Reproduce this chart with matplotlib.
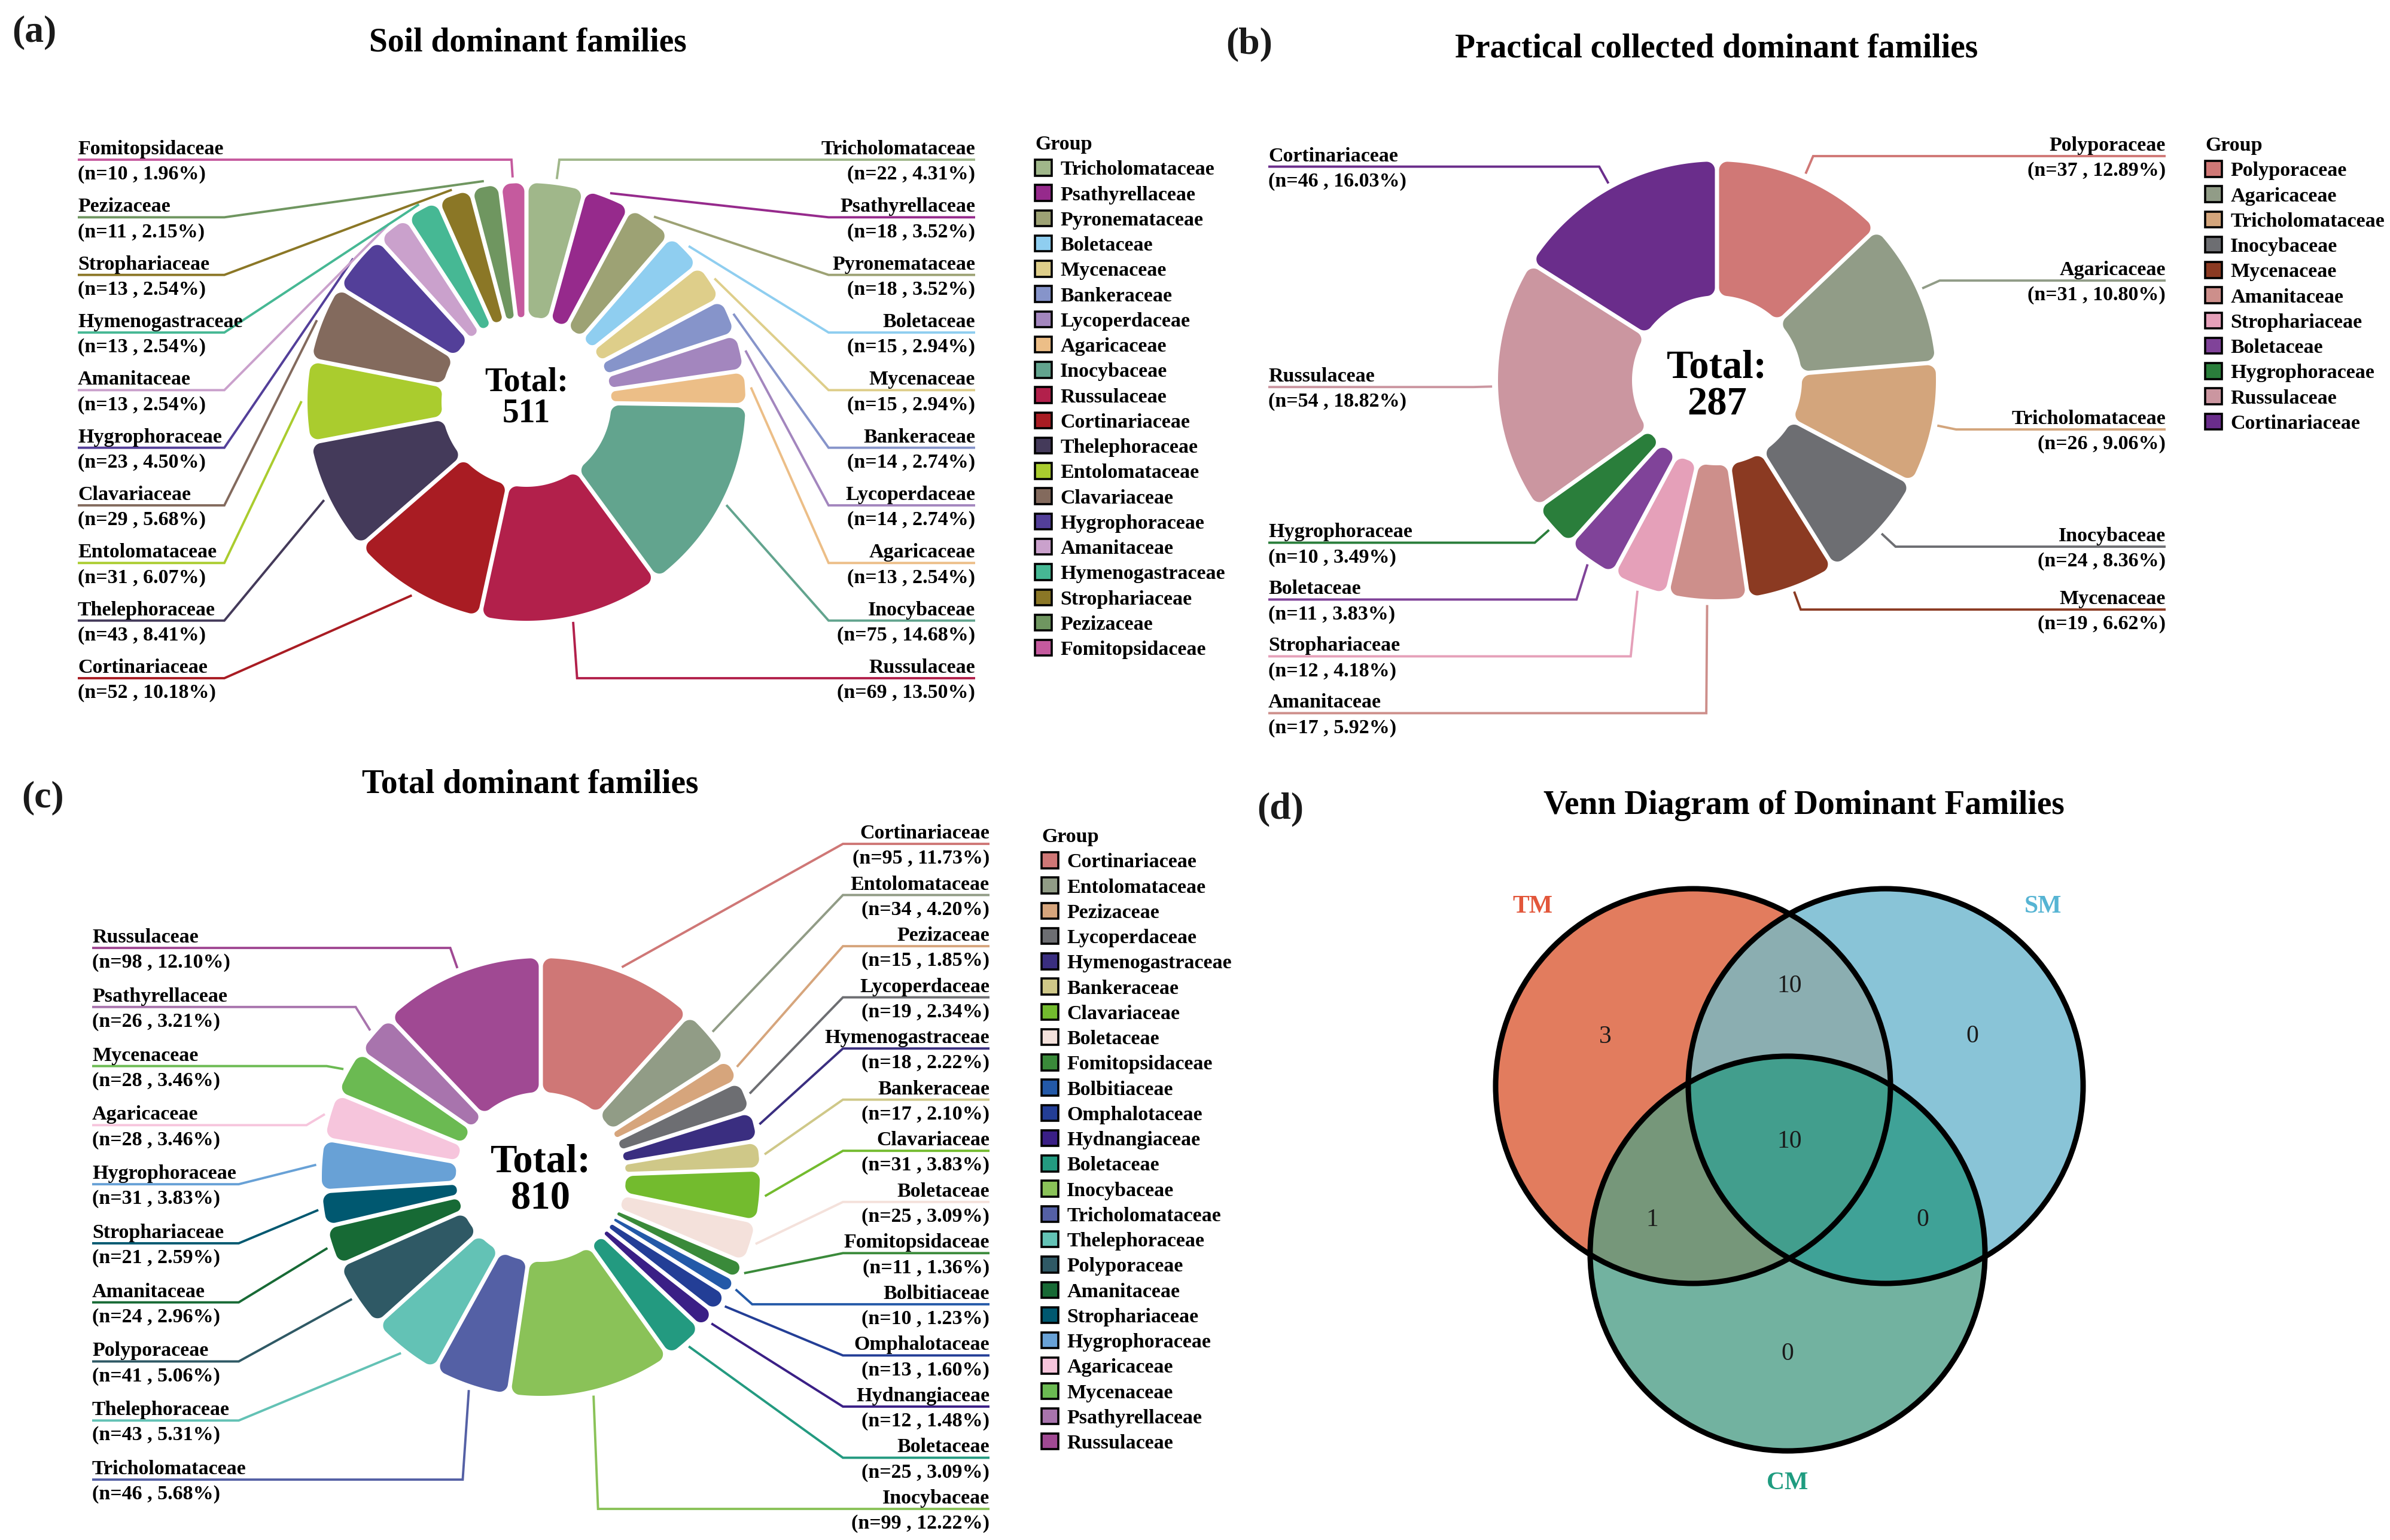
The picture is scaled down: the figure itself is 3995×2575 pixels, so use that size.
"""Dominant fungal families: three rounded donut charts plus a Venn diagram."""
import numpy as np
import matplotlib
matplotlib.use("Agg")
import matplotlib.pyplot as plt
from matplotlib.patches import Polygon, Patch, Circle

W, H = 3995, 2575
plt.rcParams.update({
    "font.family": "Liberation Serif",
    "font.weight": "bold",
})

# ---- data -------------------------------------------------------------
soil_families = ["Tricholomataceae", "Psathyrellaceae", "Pyronemataceae", "Boletaceae",
                 "Mycenaceae", "Bankeraceae", "Lycoperdaceae", "Agaricaceae",
                 "Inocybaceae", "Russulaceae", "Cortinariaceae", "Thelephoraceae",
                 "Entolomataceae", "Clavariaceae", "Hygrophoraceae", "Amanitaceae",
                 "Hymenogastraceae", "Strophariaceae", "Pezizaceae", "Fomitopsidaceae"]
soil_counts = [22, 18, 18, 15, 15, 14, 14, 13, 75, 69, 52, 43, 31, 29, 23, 13, 13, 13, 11, 10]
soil_pcts = [4.31, 3.52, 3.52, 2.94, 2.94, 2.74, 2.74, 2.54, 14.68, 13.50, 10.18, 8.41,
             6.07, 5.68, 4.50, 2.54, 2.54, 2.54, 2.15, 1.96]
soil_colors = ["#A0B78A", "#962A8C", "#9DA274", "#8FCEF0", "#DECE8A", "#8694CA",
               "#A386BE", "#ECBE87", "#62A48E", "#B2204B", "#A91C23", "#443A5A",
               "#AACC2E", "#836A5D", "#533F99", "#CAA1CC", "#46B894", "#8B7726",
               "#6F9660", "#C55A9E"]

coll_families = ["Polyporaceae", "Agaricaceae", "Tricholomataceae", "Inocybaceae",
                 "Mycenaceae", "Amanitaceae", "Strophariaceae", "Boletaceae",
                 "Hygrophoraceae", "Russulaceae", "Cortinariaceae"]
coll_counts = [37, 31, 26, 24, 19, 17, 12, 11, 10, 54, 46]
coll_pcts = [12.89, 10.80, 9.06, 8.36, 6.62, 5.92, 4.18, 3.83, 3.49, 18.82, 16.03]
coll_colors = ["#D07876", "#919C87", "#D3A57C", "#6D6E72", "#8B3A22", "#CD8F8B",
               "#E5A0B9", "#804399", "#2A7E3B", "#CB96A0", "#6A2D8B"]

total_families = ["Cortinariaceae", "Entolomataceae", "Pezizaceae", "Lycoperdaceae",
                  "Hymenogastraceae", "Bankeraceae", "Clavariaceae", "Boletaceae",
                  "Fomitopsidaceae", "Bolbitiaceae", "Omphalotaceae", "Hydnangiaceae",
                  "Boletaceae", "Inocybaceae", "Tricholomataceae", "Thelephoraceae",
                  "Polyporaceae", "Amanitaceae", "Strophariaceae", "Hygrophoraceae",
                  "Agaricaceae", "Mycenaceae", "Psathyrellaceae", "Russulaceae"]
total_counts = [95, 34, 15, 19, 18, 17, 31, 25, 11, 10, 13, 12, 25, 99, 46, 43, 41, 24,
                21, 31, 28, 28, 26, 98]
total_pcts = [11.73, 4.20, 1.85, 2.34, 2.22, 2.10, 3.83, 3.09, 1.36, 1.23, 1.60, 1.48,
              3.09, 12.22, 5.68, 5.31, 5.06, 2.96, 2.59, 3.83, 3.46, 3.46, 3.21, 12.10]
total_colors = ["#CF7776", "#919C86", "#D6A57C", "#6D6E72", "#3A2E80", "#CFC888",
                "#73BB2E", "#F4E1DB", "#3A8A3A", "#2359A8", "#233E96", "#3A1F86",
                "#239A80", "#8AC258", "#5460A5", "#63C2B5", "#2F5965", "#176A35",
                "#005870", "#68A1D6", "#F6C5DC", "#6BBA52", "#A874AD", "#A04993"]

venn_sets = ["TM", "SM", "CM"]
venn_set_colors = ["#E27C5E", "#89C4D7", "#72B2A0"]
venn_label_colors = ["#E2563A", "#56B4D3", "#1F9C80"]
# region order: TM only, SM only, CM only, TM&SM, TM&CM, SM&CM, all three
venn_counts = [3, 0, 0, 10, 1, 0, 10]
venn_pair_colors = {"AB": "#8BAEB1", "AC": "#76977A", "BC": "#3FA297", "ABC": "#429E8D"}

# ---- geometry / style ---------------------------------------------------
R_IN, R_OUT, GAP, CORNER = 142, 366, 7, 14
R_ANCHOR, R_ELBOW, ELBOW_X, LABEL_EDGE = 376, 408, 505, 750
LABEL_FS = 24.5


def panel_axes(fig, cx, cy):
    """Full-figure axes, 1 unit = 1 px, origin at image point (cx, cy), y up."""
    ax = fig.add_axes([0, 0, 1, 1])
    ax.set_xlim(-cx, W - cx)
    ax.set_ylim(cy - H, cy)
    ax.axis("off")
    ax.patch.set_visible(False)
    return ax


def rounded_wedge(t1, t2, ri, ro, gap, rc, n=24):
    h = gap / 2
    half = (t2 - t1) / 2
    s = np.sin(half)
    rc_o = max(min(rc, (ro * s - h) / (1 + s)), 0.5)
    rc_i = max(min(rc, ri * s - h), 0.5)
    a_o = min(np.arcsin(min((h + rc_o) / (ro - rc_o), 1)), half)
    a_i = min(np.arcsin(min((h + rc_i) / (ri + rc_i), 1)), half)

    def arc(cx, cy, r, a0, a1, m=n):
        t = np.linspace(a0, a1, m)
        return np.c_[cx + r * np.cos(t), cy + r * np.sin(t)]

    def pol(r, a):
        return r * np.cos(a), r * np.sin(a)

    p1 = pol(ro - rc_o, t1 + a_o)
    p2 = pol(ro - rc_o, t2 - a_o)
    p3 = pol(ri + rc_i, t2 - a_i)
    p4 = pol(ri + rc_i, t1 + a_i)
    parts = [arc(*p1, rc_o, t1 - np.pi / 2, t1 + a_o),
             arc(0, 0, ro, t1 + a_o, t2 - a_o, 120),
             arc(*p2, rc_o, t2 - a_o, t2 + np.pi / 2),
             arc(*p3, rc_i, t2 + np.pi / 2, t2 - a_i + np.pi),
             arc(0, 0, ri, t2 - a_i, t1 + a_i, 60),
             arc(*p4, rc_i, t1 + a_i + np.pi, t1 + 1.5 * np.pi)]
    return np.vstack(parts)


def donut(ax, names, counts, pcts, colors, total_fs, total_dy, mode, spans, legend_xy):
    counts = np.asarray(counts, float)
    total = counts.sum()
    cum = np.concatenate([[0], np.cumsum(counts)])
    starts = 90 - 360 * cum[:-1] / total
    ends = 90 - 360 * cum[1:] / total
    for s, e, c in zip(starts, ends, colors):
        poly = rounded_wedge(np.radians(e), np.radians(s), R_IN, R_OUT, GAP, CORNER)
        ax.add_patch(Polygon(poly, closed=True, facecolor=c, edgecolor="none"))

    ax.text(0, total_dy, f"Total:\n{int(total)}", ha="center", va="center",
            fontsize=total_fs, fontweight="bold", linespacing=1.0)

    mids = np.radians((starts + ends) / 2)
    ex, ey = R_ELBOW * np.cos(mids), R_ELBOW * np.sin(mids)
    right = np.cos(mids) > 0
    label_y = np.zeros(len(counts))
    for side, (top, bottom) in zip([True, False], spans):
        idx = [i for i in np.argsort(-ey) if right[i] == side]
        if mode == "even":
            label_y[idx] = np.linspace(top, bottom, len(idx))
        else:  # push labels down so they keep a minimum spacing
            prev = None
            for i in idx:
                y = ey[i] if prev is None else min(ey[i], prev - top)
                label_y[i] = y
                prev = y

    for i, (name, n, pct, c) in enumerate(zip(names, counts, pcts, colors)):
        sgn = 1 if right[i] else -1
        ly = label_y[i]
        ax_, ay = R_ANCHOR * np.cos(mids[i]), R_ANCHOR * np.sin(mids[i])
        beyond = np.sign(ly) == np.sign(ey[i]) and abs(ly) >= abs(ey[i])
        if mode != "even" or (abs(ex[i]) < 140 and beyond) or abs(ly - ey[i]) < 30:
            bx = ex[i]
        else:
            bx = sgn * ELBOW_X
        edge = sgn * LABEL_EDGE
        ax.plot([ax_, bx, edge], [ay, ly, ly], color=c, lw=2.8,
                solid_joinstyle="miter", solid_capstyle="butt")
        ha = "right" if right[i] else "left"
        ax.text(edge, ly + 9, name, ha=ha, va="baseline", fontsize=LABEL_FS)
        ax.text(edge, ly - 33, f"(n={int(n)} , {pct:.2f}%)", ha=ha,
                va="baseline", fontsize=LABEL_FS)

    handles = [Patch(facecolor=c, edgecolor="black", linewidth=2.6) for c in colors]
    ax.legend(handles, names, loc="upper left", bbox_to_anchor=legend_xy,
              bbox_transform=ax.transData, frameon=False, title="Group",
              alignment="left", fontsize=LABEL_FS, title_fontsize=LABEL_FS,
              handlelength=0.82, handleheight=0.82, handletextpad=0.42,
              labelspacing=0.30, borderpad=0, borderaxespad=0)


def lens(c1, c2, r, n=1440):
    t = np.linspace(0, 2 * np.pi, n, endpoint=False)
    a = np.c_[c1[0] + r * np.cos(t), c1[1] + r * np.sin(t)]
    b = np.c_[c2[0] + r * np.cos(t), c2[1] + r * np.sin(t)]
    pts = np.vstack([a[np.hypot(*(a - c2).T) <= r], b[np.hypot(*(b - c1).T) <= r]])
    mid = (np.asarray(c1) + np.asarray(c2)) / 2
    order = np.argsort(np.arctan2(pts[:, 1] - mid[1], pts[:, 0] - mid[0]))
    return pts[order]


fig = plt.figure(figsize=(W / 100, H / 100), dpi=100)
fig.patch.set_facecolor("white")

# (a) soil
ax_a = panel_axes(fig, 880, 672)
donut(ax_a, soil_families, soil_counts, soil_pcts, soil_colors, 40, 6, "even",
      [(405, -462), (405, -462)], (850, 446))
# (b) practical collected
ax_b = panel_axes(fig, 2870, 636)
donut(ax_b, coll_families, coll_counts, coll_pcts, coll_colors, 48, -10, "repel",
      [(95, 0), (95, 0)], (816, 408))
# (c) total
ax_c = panel_axes(fig, 904, 1968)
donut(ax_c, total_families, total_counts, total_pcts, total_colors, 48, -6, "even",
      [(557, -555), (383, -506)], (837, 584))

# (d) Venn diagram, image pixel coordinates
ax_d = fig.add_axes([0, 0, 1, 1])
ax_d.set_xlim(0, W)
ax_d.set_ylim(H, 0)
ax_d.axis("off")
ax_d.patch.set_visible(False)
VR = 330
centers = [(2830, 1816), (3152, 1816), (2988, 2096)]
base = []
for (x, y), c in zip(centers, venn_set_colors):
    p = Circle((x, y), VR, facecolor=c, edgecolor="none")
    ax_d.add_patch(p)
    base.append(p)
for key, (i, j) in {"AB": (0, 1), "AC": (0, 2), "BC": (1, 2)}.items():
    p = Circle(centers[j], VR, facecolor=venn_pair_colors[key], edgecolor="none")
    ax_d.add_patch(p)
    p.set_clip_path(base[i])
p = Polygon(lens(centers[0], centers[1], VR), closed=True,
            facecolor=venn_pair_colors["ABC"], edgecolor="none")
ax_d.add_patch(p)
p.set_clip_path(base[2])
for x, y in centers:
    ax_d.add_patch(Circle((x, y), VR, fill=False, edgecolor="black", lw=6.5))

for name, col, (x, y) in zip(venn_sets, venn_label_colors,
                             [(2562, 1516), (3415, 1516), (2988, 2480)]):
    ax_d.text(x, y, name, color=col, ha="center", va="center", fontsize=30,
              fontweight="bold")
count_pos = [(2683, 1734), (3297, 1733), (2988, 2264), (2991, 1649),
             (2762, 2040), (3214, 2040), (2991, 1909)]
for v, (x, y) in zip(venn_counts, count_pos):
    ax_d.text(x, y, str(v), ha="center", va="center", fontsize=30,
              fontweight="normal", color="#1a1a1a")

# titles and panel letters
titles = [("Soil dominant families", 882, 71), ("Practical collected dominant families", 2869, 82),
          ("Total dominant families", 886, 1311), ("Venn Diagram of Dominant Families", 3015, 1347)]
for t, x, y in titles:
    ax_d.text(x, y, t, ha="center", va="center", fontsize=40, fontweight="bold")
for t, x, y in [("(a)", 57, 54), ("(b)", 2088, 74), ("(c)", 72, 1334), ("(d)", 2140, 1353)]:
    ax_d.text(x, y, t, ha="center", va="center", fontsize=46, fontweight="bold",
              color="#1a1a1a")

fig.savefig("out.png", dpi=100, facecolor="white")
